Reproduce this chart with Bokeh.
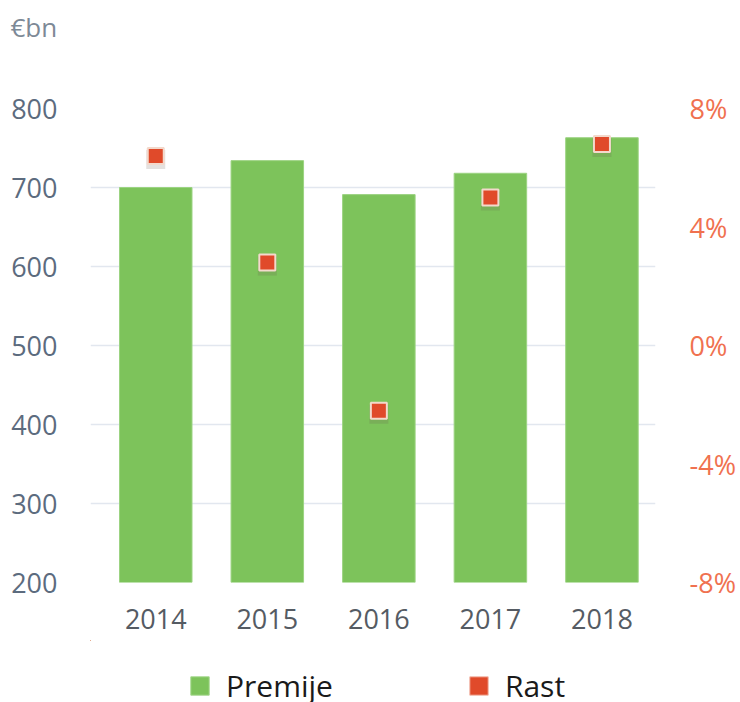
from bokeh.plotting import figure
from bokeh.layouts import column
from bokeh.models import (Range1d, LinearAxis, FixedTicker, Legend, LegendItem,
                          ColumnDataSource, CustomJSTickFormatter)
from bokeh.embed import file_html
from bokeh.resources import INLINE

years = ["2014", "2015", "2016", "2017", "2018"]
premije = [700, 734, 691, 718, 763]
rast = [6.4, 2.8, -2.2, 5.0, 6.8]
left_ticks = [200, 300, 400, 500, 600, 700, 800]
right_ticks = [-8, -4, 0, 4, 8]
unit_label = "€bn"

FONT = "Open Sans"
GREEN = "#7DC35B"
RED = "#E04A2A"
xs = list(range(len(years)))
src = ColumnDataSource(dict(x=xs, premije=premije, rast=rast,
                            shadow=[r - 0.12 for r in rast]))

# top strip carrying the unit label as a title
tf = figure(width=740, height=58, output_backend="svg", toolbar_location=None,
            x_range=Range1d(0, 1), y_range=Range1d(0, 1),
            x_axis_type=None, y_axis_type=None, title=unit_label,
            min_border_left=90, min_border_right=85, min_border_top=49,
            min_border_bottom=0)
tf.outline_line_color = None
tf.grid.visible = False
tf.title.text_font = FONT
tf.title.text_font_size = "26px"
tf.title.text_font_style = "normal"
tf.title.text_color = "#7D8996"
tf.title.align = "left"
tf.title.offset = -80

p = figure(width=740, height=582, output_backend="svg", toolbar_location=None,
           x_range=Range1d(-0.585, 4.48), y_range=Range1d(200, 800),
           min_border_left=90, min_border_right=85, min_border_top=50,
           min_border_bottom=58)
p.outline_line_color = None
p.background_fill_color = "white"
p.border_fill_color = "white"

p.extra_y_ranges = {"pct": Range1d(-8, 8)}

# grid
p.xgrid.grid_line_color = None
p.ygrid.grid_line_color = "#E2E7EF"
p.ygrid.grid_line_width = 1.5
p.ygrid.ticker = FixedTicker(ticks=left_ticks)

# left axis
ya = p.yaxis[0]
ya.ticker = FixedTicker(ticks=left_ticks)
ya.axis_line_color = None
ya.major_tick_line_color = None
ya.minor_tick_line_color = None
ya.major_label_text_font = FONT
ya.major_label_text_font_size = "27px"
ya.major_label_text_color = "#5C6B7E"
ya.major_label_standoff = 27

# x axis
xa = p.xaxis[0]
xa.ticker = FixedTicker(ticks=xs)
xa.major_label_overrides = {i: y for i, y in enumerate(years)}
xa.axis_line_color = None
xa.major_tick_line_color = None
xa.minor_tick_line_color = None
xa.major_label_text_font = FONT
xa.major_label_text_font_size = "27px"
xa.major_label_text_color = "#555B63"
xa.major_label_standoff = 20

# right axis
ra = LinearAxis(y_range_name="pct", ticker=FixedTicker(ticks=right_ticks))
ra.formatter = CustomJSTickFormatter(code="return tick + '%';")
ra.axis_line_color = None
ra.major_tick_line_color = None
ra.minor_tick_line_color = None
ra.major_label_text_font = FONT
ra.major_label_text_font_size = "27px"
ra.major_label_text_color = "#F0714F"
ra.major_label_standoff = 28
p.add_layout(ra, "right")

p.vbar(x="x", top="premije", bottom=200, width=0.65, source=src,
       fill_color=GREEN, line_color="#9CD382", line_width=1)

p.scatter(x="x", y="shadow", source=src, y_range_name="pct",
          marker="square", size=19, fill_color="#6A5A50",
          fill_alpha=0.18, line_color=None)
p.scatter(x="x", y="rast", source=src, y_range_name="pct",
          marker="square", size=16, fill_color=RED,
          line_color="#F3D9CC", line_width=2)

# legend strip below the chart (its swatch renderers fall outside its view)
lf = figure(width=740, height=62, output_backend="svg", toolbar_location=None,
            x_range=Range1d(10, 11), y_range=Range1d(0, 1),
            x_axis_type=None, y_axis_type=None,
            min_border_left=90, min_border_right=85, min_border_top=0,
            min_border_bottom=0)
lf.outline_line_color = None
lf.grid.visible = False
sw_p = lf.vbar(x="x", top="premije", bottom=200, width=0.5, source=src,
               fill_color=GREEN, line_color="#A6D78E", line_width=1)
sw_r = lf.vbar(x="x", top="premije", bottom=200, width=0.5, source=src,
               fill_color=RED, line_color="#F3B8A8", line_width=1)
legend = Legend(items=[LegendItem(label="Premije", renderers=[sw_p]),
                       LegendItem(label="Rast", renderers=[sw_r])],
                orientation="horizontal", location=(98, -4),
                label_text_font=FONT, label_text_font_size="30px",
                label_text_color="#1A1A1A", glyph_width=23, glyph_height=23,
                label_standoff=15, spacing=134, padding=2, margin=0,
                border_line_color=None, background_fill_alpha=0)
lf.add_layout(legend, "center")

layout = column(tf, p, lf, spacing=0)
open("out.html", "w").write(file_html(layout, INLINE))
